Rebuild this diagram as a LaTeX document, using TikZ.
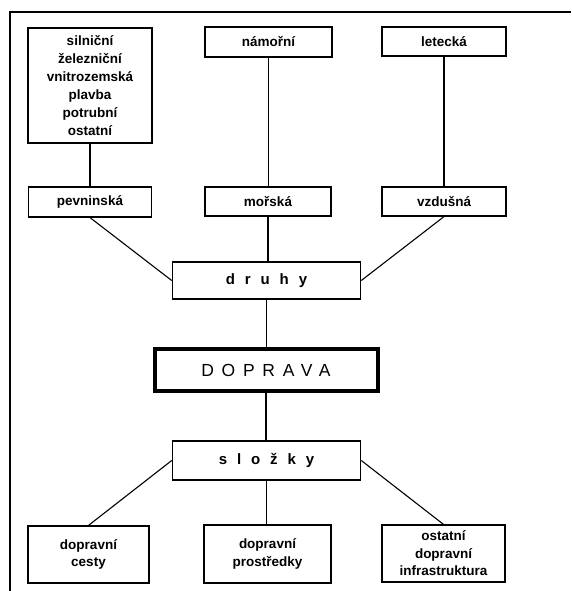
\documentclass[tikz,border=0pt]{standalone}
\usepackage{fontspec}
\setmainfont{Liberation Sans}
\newfontfamily\spacedfont[LetterSpace=66]{Liberation Sans}
\newfontfamily\bigspaced[LetterSpace=44]{Liberation Sans}
\begin{document}
\begin{tikzpicture}[x=1pt,y=-1pt,
  box/.style={draw,line width=1.2pt,inner sep=0pt,align=center,font=\bfseries\fontsize{13.5}{18}\selectfont},
  boxb/.style={box,font=\bfseries\fontsize{13.5}{17.5}\selectfont},
  mid/.style={draw,line width=1.6pt,inner sep=0pt,align=center},
  conn/.style={line width=1.1pt}]
\useasboundingbox (0,0) rectangle (571,591);
\draw[line width=1.5pt] (10,591) -- (10,12) -- (571,12);
% top row
\node[box,minimum width=124pt,minimum height=115pt] (sil) at (90,85.5) {silniční\\železniční\\vnitrozemská\\plavba\\potrubní\\ostatní};
\node[box,minimum width=127pt,minimum height=30pt] (nam) at (268.5,42) {námořní};
\node[box,minimum width=124pt,minimum height=29pt] (let) at (444,41.5) {letecká};
% second row
\node[box,minimum width=123pt,minimum height=30pt] (pev) at (90,202) {pevninská};
\node[box,minimum width=126pt,minimum height=29pt] (mor) at (268,201.5) {mořská};
\node[box,minimum width=124pt,minimum height=29pt] (vzd) at (444,201.5) {vzdušná};
% middle
\node[mid,minimum width=188pt,minimum height=37pt,font=\spacedfont\bfseries\fontsize{15}{18}\selectfont] (dru) at (266.5,280.5) {druhy};
\node[draw,line width=4pt,inner sep=0pt,minimum width=223pt,minimum height=42pt,font=\bigspaced\fontsize{17.5}{20}\selectfont] (dop) at (266,370) {DOPRAVA};
\node[mid,minimum width=188pt,minimum height=39pt,font=\spacedfont\bfseries\fontsize{15}{18}\selectfont] (slo) at (266.5,460.5) {složky};
% bottom row
\node[boxb,minimum width=121pt,minimum height=57pt] (ces) at (88.5,554.5) {dopravní\\cesty};
\node[boxb,minimum width=127pt,minimum height=58pt] (pro) at (267.5,554) {dopravní\\prostředky};
\node[boxb,minimum width=123pt,minimum height=57pt] (ost) at (443.5,553.5) {ostatní\\dopravní\\infrastruktura};
% connectors
\draw[conn] (sil.south) -- (sil.south |- pev.north);
\draw[conn] (nam.south) -- (nam.south |- mor.north);
\draw[conn] (let.south) -- (let.south |- vzd.north);
\draw[conn] (pev.south) -- (dru.west);
\draw[conn] (mor.south) -- (mor.south |- dru.north);
\draw[conn] (vzd.south) -- (dru.east);
\draw[conn] (dru.south) -- (dru.south |- dop.north);
\draw[conn] (dop.south) -- (dop.south |- slo.north);
\draw[conn] (slo.west) -- (ces.north);
\draw[conn] (slo.south) -- (slo.south |- pro.north);
\draw[conn] (slo.east) -- (ost.north);
\end{tikzpicture}
\end{document}
